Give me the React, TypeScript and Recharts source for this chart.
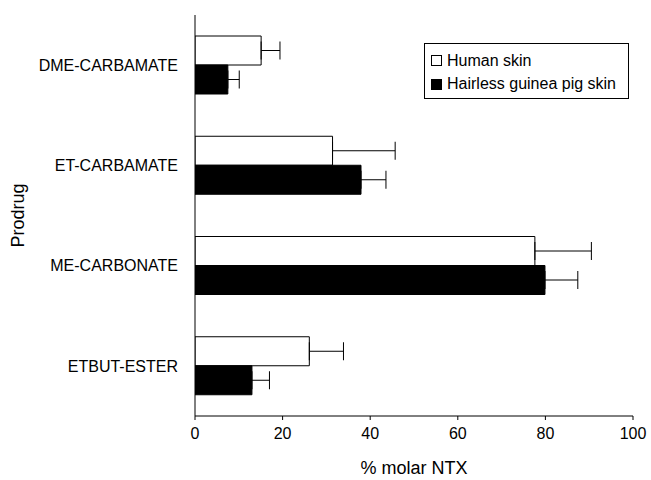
import React from 'react';
import { BarChart, Bar, XAxis, YAxis, ErrorBar, Legend, Label } from 'recharts';

const categories = ['DME-CARBAMATE', 'ET-CARBAMATE', 'ME-CARBONATE', 'ETBUT-ESTER'];
const humanSkin = [15.1, 31.4, 77.6, 26.1];
const humanSkinErr = [4.3, 14.3, 12.9, 7.8];
const guineaPigSkin = [7.5, 37.9, 79.9, 13.0];
const guineaPigSkinErr = [2.6, 5.7, 7.5, 4.0];
const seriesNames = ['Human skin', 'Hairless guinea pig skin'];
const xTicks = [0, 20, 40, 60, 80, 100];
const boundaryTicks = [0, 1, 2, 3, 4];

const data = categories.map((name, i) => ({
  name,
  human: humanSkin[i],
  humanErr: [0, humanSkinErr[i]],
  guinea: guineaPigSkin[i],
  guineaErr: [0, guineaPigSkinErr[i]],
}));

const FONT = '"Liberation Sans", Arial, Helvetica, sans-serif';

const LegendBox = (props: any) => {
  const payload = [...(props.payload || [])].sort(
    (a: any, b: any) => seriesNames.indexOf(a.value) - seriesNames.indexOf(b.value)
  );
  return (
    <div
      style={{
        border: '1px solid #000',
        width: 205,
        height: 56,
        boxSizing: 'border-box',
        padding: '5px 0 0 6px',
        fontFamily: FONT,
        fontSize: 16,
        color: '#000',
        background: '#fff',
      }}
    >
      {payload.map((p: any) => (
        <div key={p.value} style={{ display: 'flex', alignItems: 'center', height: 23.5, whiteSpace: 'nowrap' }}>
          <span
            style={{
              display: 'inline-block',
              width: 9,
              height: 9,
              border: '1px solid #000',
              background: p.payload && p.payload.fill ? p.payload.fill : p.color,
              marginRight: 5,
            }}
          />
          <span>{p.value}</span>
        </div>
      ))}
    </div>
  );
};

export default function App() {
  return (
    <div style={{ position: 'absolute', left: 0, top: 0, background: '#fff' }}>
      <BarChart
        width={651}
        height={480}
        data={data}
        layout="vertical"
        margin={{ top: 15, right: 18, left: 0, bottom: 0 }}
        barCategoryGap={21}
        barGap={0}
        style={{ fontFamily: FONT }}
      >
        <XAxis
          type="number"
          domain={[0, 100]}
          ticks={xTicks}
          height={64}
          tickSize={4}
          tickMargin={8}
          stroke="#000"
          tick={{ fill: '#000', fontSize: 16 }}
          allowDataOverflow
        >
          <Label value="% molar NTX" position="insideBottom" offset={6} fill="#000" fontSize={18} />
        </XAxis>
        <YAxis
          yAxisId="bounds"
          type="number"
          domain={[0, 4]}
          ticks={boundaryTicks}
          width={1}
          tickSize={4}
          tick={false}
          stroke="#000"
          allowDataOverflow
        />
        <YAxis
          yAxisId="cat"
          dataKey="name"
          type="category"
          width={194}
          tickLine={false}
          axisLine={false}
          tickSize={0}
          tickMargin={16}
          tick={{ fill: '#000', fontSize: 16 }}
        >
          <Label
            content={(p: any) => {
              const vb = p.viewBox || {};
              const cy = (vb.y || 0) + (vb.height || 0) / 2;
              return (
                <text
                  x={18}
                  y={cy}
                  transform={`rotate(-90, 18, ${cy})`}
                  textAnchor="middle"
                  dominantBaseline="central"
                  fill="#000"
                  fontSize={18}
                  fontFamily={FONT}
                >
                  Prodrug
                </text>
              );
            }}
          />
        </YAxis>
        <Legend
          layout="horizontal"
          verticalAlign="middle"
          align="center"
          content={<LegendBox />}
          wrapperStyle={{ position: 'absolute', left: 424, top: 43, width: 205, height: 56 }}
        />
        <Bar
          yAxisId="cat"
          dataKey="human"
          name="Human skin"
          fill="#fff"
          stroke="#000"
          strokeWidth={1}
          isAnimationActive={false}
        >
          <ErrorBar dataKey="humanErr" direction="x" width={9} stroke="#000" strokeWidth={1} />
        </Bar>
        <Bar
          yAxisId="cat"
          dataKey="guinea"
          name="Hairless guinea pig skin"
          fill="#000"
          stroke="#000"
          strokeWidth={1}
          isAnimationActive={false}
        >
          <ErrorBar dataKey="guineaErr" direction="x" width={9} stroke="#000" strokeWidth={1} />
        </Bar>
      </BarChart>
    </div>
  );
}
